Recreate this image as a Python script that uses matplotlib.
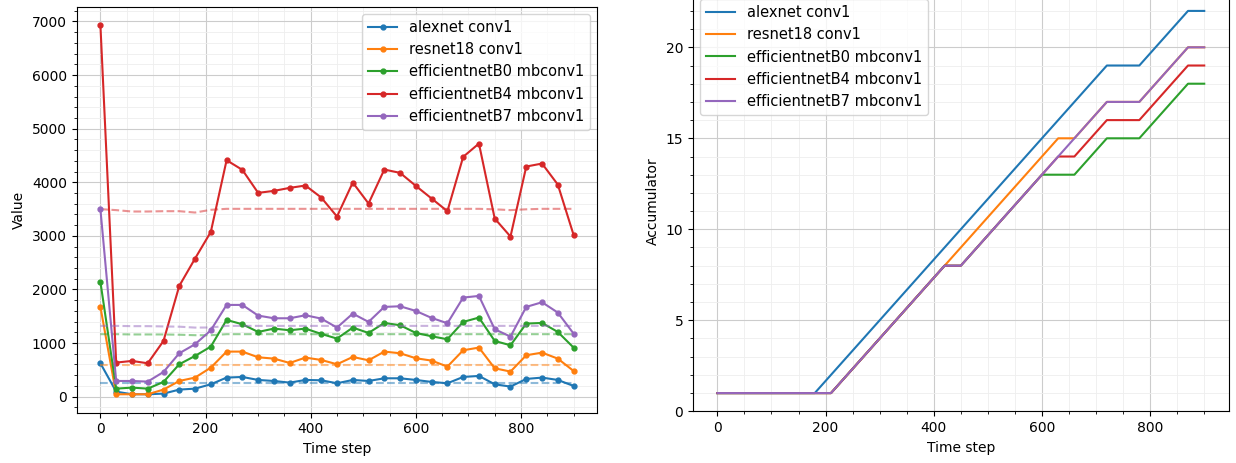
import matplotlib.pyplot as plt

steps = list(range(0, 901, 30))
names = ['alexnet conv1', 'resnet18 conv1', 'efficientnetB0 mbconv1',
         'efficientnetB4 mbconv1', 'efficientnetB7 mbconv1']

# measured values per time step
alexnet = [622, 93, 44, 44, 56, 131, 149, 230, 355, 367, 311, 292, 261, 311, 305, 249,
           311, 292, 342, 342, 311, 274, 249, 367, 386, 230, 187, 330, 355, 311, 199]
resnet18 = [1674, 44, 44, 44, 131, 292, 355, 541, 840, 840, 734, 709, 628, 728, 684, 604,
            740, 678, 840, 809, 716, 672, 560, 865, 915, 529, 467, 772, 821, 709, 479]
effb0 = [2140, 149, 168, 149, 274, 604, 759, 933, 1431, 1350, 1207, 1269, 1238, 1269, 1170, 1083,
         1288, 1188, 1375, 1332, 1188, 1126, 1070, 1394, 1475, 1039, 958, 1363, 1375, 1207, 915]
effb4 = [6931, 635, 666, 622, 1039, 2066, 2576, 3074, 4411, 4231, 3802, 3839, 3895, 3939, 3715, 3360,
         3995, 3603, 4237, 4175, 3932, 3696, 3460, 4474, 4722, 3323, 2987, 4293, 4349, 3957, 3018]
effb7 = [3497, 292, 292, 280, 460, 809, 977, 1238, 1711, 1711, 1512, 1462, 1462, 1518, 1456, 1288,
         1549, 1394, 1674, 1686, 1599, 1468, 1369, 1848, 1879, 1257, 1120, 1674, 1761, 1568, 1176]

# reference levels (dashed)
ref_alexnet = [250] * 31
ref_resnet18 = [592] * 31
ref_effb0 = [1165, 1165, 1160, 1160, 1160, 1155, 1146, 1146] + [1165] * 23
ref_effb4 = [3498, 3480, 3454, 3454, 3460, 3460, 3435, 3486] + [3504] * 17 + [3495, 3480, 3495] + [3504] * 3
ref_effb7 = [1320, 1320, 1315, 1315, 1310, 1305, 1288, 1290] + [1320] * 23

# accumulator per time step
acc_alexnet = [1, 1, 1, 1, 1, 1, 1, 2, 3, 4, 5, 6, 7, 8, 9, 10, 11, 12, 13, 14, 15, 16, 17, 18, 19, 19, 19, 20, 21, 22, 22]
acc_resnet18 = [1, 1, 1, 1, 1, 1, 1, 1, 2, 3, 4, 5, 6, 7, 8, 9, 10, 11, 12, 13, 14, 15, 15, 16, 17, 17, 17, 18, 19, 20, 20]
acc_effb0 = [1, 1, 1, 1, 1, 1, 1, 1, 2, 3, 4, 5, 6, 7, 8, 8, 9, 10, 11, 12, 13, 13, 13, 14, 15, 15, 15, 16, 17, 18, 18]
acc_effb4 = [1, 1, 1, 1, 1, 1, 1, 1, 2, 3, 4, 5, 6, 7, 8, 8, 9, 10, 11, 12, 13, 14, 14, 15, 16, 16, 16, 17, 18, 19, 19]
acc_effb7 = [1, 1, 1, 1, 1, 1, 1, 1, 2, 3, 4, 5, 6, 7, 8, 8, 9, 10, 11, 12, 13, 14, 15, 16, 17, 17, 17, 18, 19, 20, 20]

values = [alexnet, resnet18, effb0, effb4, effb7]
refs = [ref_alexnet, ref_resnet18, ref_effb0, ref_effb4, ref_effb7]
accs = [acc_alexnet, acc_resnet18, acc_effb0, acc_effb4, acc_effb7]
colors = ['tab:blue', 'tab:orange', 'tab:green', 'tab:red', 'tab:purple']

fig = plt.figure(figsize=(12.36, 4.63), dpi=100)
ax1 = fig.add_axes([0.0621, 0.1086, 0.4211, 0.8769])
ax2 = fig.add_axes([0.5607, 0.1117, 0.4333, 0.9060])  # top is cut off, as in the source

for v, r, c, n in zip(values, refs, colors, names):
    ax1.plot(steps, v, color=c, marker='o', markersize=3.5, label=n)
    ax1.plot(steps, r, color=c, linestyle='--', alpha=0.5)
ax1.set_xlabel('Time step')
ax1.set_ylabel('Value')
ax1.legend(loc='upper right', fontsize=10.5)

for a, c, n in zip(accs, colors, names):
    ax2.plot(steps, a, color=c, label=n)
ax2.set_ylim(bottom=0)
ax2.set_xlabel('Time step')
ax2.set_ylabel('Accumulator')
ax2.legend(loc='upper left', fontsize=10.5)

for ax in (ax1, ax2):
    ax.minorticks_on()
    ax.grid(which='major', color='#cccccc', linewidth=0.8)
    ax.grid(which='minor', color='#eeeeee', linewidth=0.6)

fig.savefig('out.png', dpi=100)
